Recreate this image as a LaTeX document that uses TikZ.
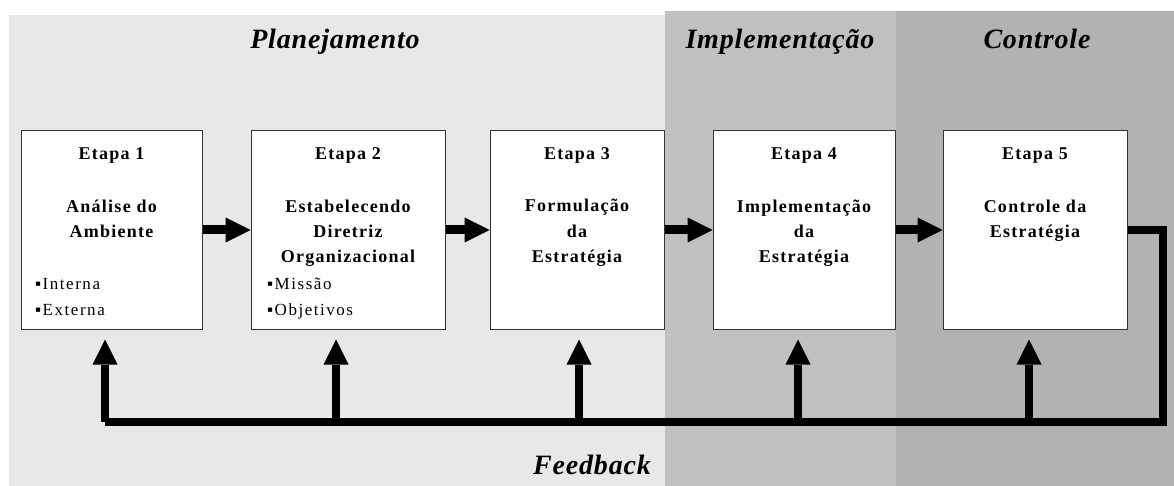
\documentclass[tikz,border=0pt]{standalone}
\usepackage{fontspec}
\setmainfont{Liberation Serif}
\newfontfamily\headfont[LetterSpace=3]{Liberation Serif}
\newfontfamily\boxfont[LetterSpace=7]{Liberation Serif}
\newfontfamily\itemfont[LetterSpace=9]{Liberation Serif}
\usetikzlibrary{arrows.meta,calc}

\definecolor{planbg}{HTML}{E8E8E8}
\definecolor{implbg}{HTML}{C0C0C0}
\definecolor{ctrlbg}{HTML}{B2B2B2}
\definecolor{boxline}{HTML}{333333}

\begin{document}
\begin{tikzpicture}[x=1pt,y=-1pt,
  stage/.style={draw=boxline, line width=1pt, fill=white, minimum height=198pt, inner sep=0pt},
  phase/.style={font=\headfont\bfseries\itshape\fontsize{28}{32}\selectfont, anchor=base, inner sep=0pt},
  stagetitle/.style={font=\boxfont\bfseries\fontsize{18}{21}\selectfont, anchor=base, inner sep=0pt},
  item/.style={font=\itemfont\fontsize{17}{20}\selectfont, anchor=base west, inner sep=0pt},
  bigtip/.style={-{Triangle[length=25pt,width=25pt,line width=0pt]}},
  flow/.style={bigtip, line width=9pt},
  feedline/.style={line width=8.5pt, line join=miter},
  feedarrow/.style={bigtip, line width=8.5pt, shorten >=10pt},
]
% canvas and phase bands
\useasboundingbox (0,0) rectangle (1174,486);
\fill[white] (0,0) rectangle (1174,486);
\fill[planbg] (9,15) rectangle (665,486);
\fill[implbg] (665,11) rectangle (896,486);
\fill[ctrlbg] (896,11) rectangle (1174,486);

% phase titles
\node[phase] (pPlan) at (335,49) {Planejamento};
\node[phase] (pImpl) at (780,49) {Implementação};
\node[phase] (pCtrl) at (1037,49) {Controle};
\node[phase] (pFeed) at (592,474) {Feedback};

% stage boxes
\node[stage, minimum width=181pt] (e1) at (111.5,230) {};
\node[stage, minimum width=194pt] (e2) at (348,230) {};
\node[stage, minimum width=174pt] (e3) at (577,230) {};
\node[stage, minimum width=182pt] (e4) at (804,230) {};
\node[stage, minimum width=184pt] (e5) at (1035,230) {};

% stage 1
\node[stagetitle] (e1a) at (111.5,160) {Etapa 1};
\node[stagetitle] (e1b) at (111.5,213) {Análise do};
\node[stagetitle] (e1c) at (111.5,238) {Ambiente};
\node[item] (e1d) at (35,289) {▪Interna};
\node[item] (e1e) at (35,315) {▪Externa};

% stage 2
\node[stagetitle] (e2a) at (348,160) {Etapa 2};
\node[stagetitle] (e2b) at (348,213) {Estabelecendo};
\node[stagetitle] (e2c) at (348,237) {Diretriz};
\node[stagetitle] (e2d) at (348,262) {Organizacional};
\node[item] (e2e) at (267,289) {▪Missão};
\node[item] (e2f) at (267,315) {▪Objetivos};

% stage 3
\node[stagetitle] (e3a) at (577,160) {Etapa 3};
\node[stagetitle] (e3b) at (577,212) {Formulação};
\node[stagetitle] (e3c) at (577,237) {da};
\node[stagetitle] (e3d) at (577,262) {Estratégia};

% stage 4
\node[stagetitle] (e4a) at (804,160) {Etapa 4};
\node[stagetitle] (e4b) at (804,213) {Implementação};
\node[stagetitle] (e4c) at (804,238) {da};
\node[stagetitle] (e4d) at (804,262) {Estratégia};

% stage 5
\node[stagetitle] (e5a) at (1035,160) {Etapa 5};
\node[stagetitle] (e5b) at (1035,213) {Controle da};
\node[stagetitle] (e5c) at (1035,237) {Estratégia};

% forward flow
\draw[flow] (e1.east) -- (e2.west);
\draw[flow] (e2.east) -- (e3.west);
\draw[flow] (e3.east) -- (e4.west);
\draw[flow] (e4.east) -- (e5.west);

% feedback loop
\coordinate (fbR) at (1163,422);
\coordinate (fb1) at (105,422);
\coordinate (fb2) at (336,422);
\coordinate (fb3) at (579,422);
\coordinate (fb4) at (798,422);
\coordinate (fb5) at (1029,422);

\draw[feedline] (e5.east) -| (fbR) -- (fb1);
\draw[feedarrow] (fb1) -- (fb1 |- e1.south);
\draw[feedarrow] (fb2) -- (fb2 |- e2.south);
\draw[feedarrow] (fb3) -- (fb3 |- e3.south);
\draw[feedarrow] (fb4) -- (fb4 |- e4.south);
\draw[feedarrow] (fb5) -- (fb5 |- e5.south);
\end{tikzpicture}
\end{document}
